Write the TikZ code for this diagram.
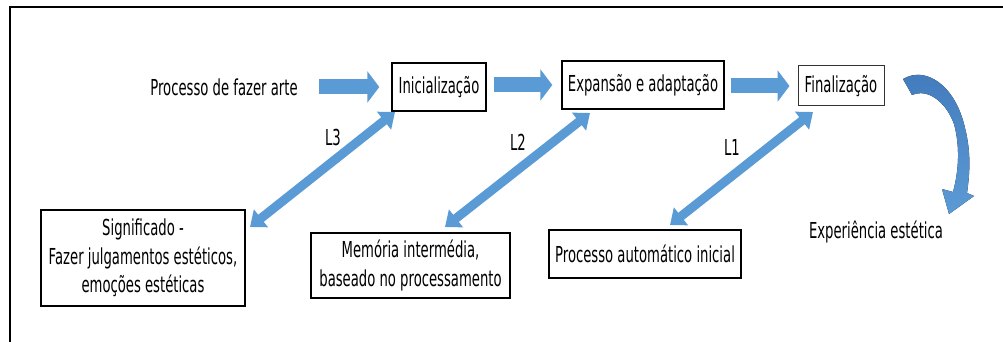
\documentclass[tikz,border=0pt]{standalone}
\usepackage{fontspec}
\setmainfont[FakeStretch=0.6]{DejaVu Sans}
\usetikzlibrary{arrows.meta}
\definecolor{ablue}{RGB}{91,155,213}
\definecolor{dblue}{RGB}{66,122,188}
\tikzset{
  box/.style={draw=black, line width=1.4pt, inner sep=0pt, align=center, font=\fontsize{22}{28.5}\selectfont},
  txt/.style={inner sep=0pt, align=center, font=\fontsize{22}{28.5}\selectfont},
  fatarrow/.style={draw=ablue, line width=15pt, -{Triangle[length=12pt,width=31pt]}},
  dblarrow/.style={draw=ablue, line width=9pt, {Triangle[length=14pt,width=22pt]}-{Triangle[length=14pt,width=22pt]}},
}
\begin{document}
\begin{tikzpicture}[x=1pt,y=-1pt]
\useasboundingbox (0,0) rectangle (1003,342);
\draw[line width=2pt] (10,346) -- (10,7) -- (1008,7);
% nodes
\node[txt] (proc) at (224,87) {Processo de fazer arte};
\node[box, minimum width=94pt, minimum height=48pt] (ini) at (439,87) {Inicialização};
\node[box, minimum width=162pt, minimum height=48pt] (exp) at (643,85) {Expansão e adaptação};
\node[box, line width=1pt, draw=black!80, minimum width=86pt, minimum height=40pt] (fin) at (841,86) {Finalização};
\node[box, line width=2.6pt, minimum width=204pt, minimum height=96pt] (sig) at (143,258) {Significado -\\Fazer julgamentos estéticos,\\emoções estéticas};
\node[box, minimum width=199pt, minimum height=65pt] (mem) at (410.5,265.5) {Memória intermédia,\\baseado no processamento};
\node[box, minimum width=192pt, minimum height=48pt] (auto) at (645,254) {Processo automático inicial};
\node[txt] (exper) at (876,232) {Experiência estética};
\node[txt] (l3) at (333,137) {L3};
\node[txt] (l2) at (518,142) {L2};
\node[txt] (l1) at (732,147) {L1};
% horizontal arrows
\draw[fatarrow, shorten <=21pt, shorten >=12pt] (proc.east |- ini.west) -- (ini.west);
\draw[fatarrow, shorten <=7pt, shorten >=9pt] (ini.east |- exp.west) -- (exp.west);
\draw[fatarrow, shorten <=6pt, shorten >=8pt] (exp.east |- fin.west) -- (fin.west);
% diagonal double arrows
\coordinate (s3) at (250,227); \coordinate (e3) at (395,112);
\coordinate (s2) at (445,227); \coordinate (e2) at (590,113);
\coordinate (s1) at (670,225); \coordinate (e1) at (813,112);
\draw[dblarrow] (s3) -- (e3);
\draw[dblarrow] (s2) -- (e2);
\draw[dblarrow] (s1) -- (e1);
% curved arrow
\fill[top color=dblue, bottom color=ablue]
  (903,79) .. controls (925,66) and (955,84) .. (965,128)
  .. controls (971,152) and (970,172) .. (967,193)
  -- (974,196) -- (949,214) -- (942,189) -- (953,192)
  .. controls (959,170) and (960,146) .. (954,124)
  .. controls (946,102) and (928,88) .. (912,95) -- cycle;
\end{tikzpicture}
\end{document}
